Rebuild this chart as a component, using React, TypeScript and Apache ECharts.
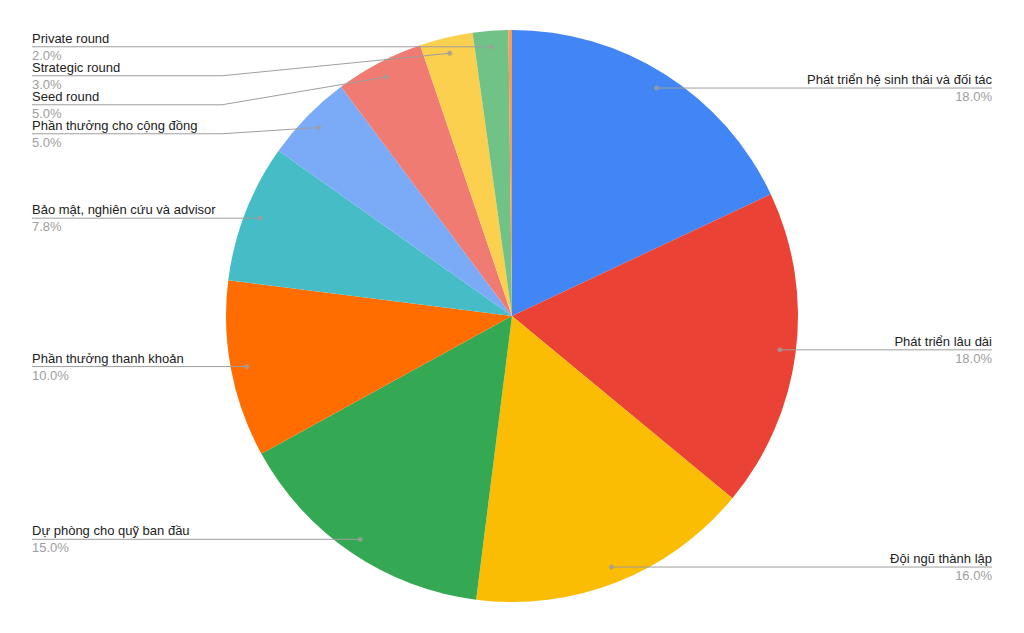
import React, { useEffect, useRef } from 'react';
import * as echarts from 'echarts';

// ---- Data ----
const categories = [
  'Phát triển hệ sinh thái và đối tác',
  'Phát triển lâu dài',
  'Đội ngũ thành lập',
  'Dự phòng cho quỹ ban đầu',
  'Phần thưởng thanh khoản',
  'Bảo mật, nghiên cứu và advisor',
  'Phần thưởng cho cộng đồng',
  'Seed round',
  'Strategic round',
  'Private round',
  '',
];
const values = [18, 18, 16, 15, 10, 7.8, 5, 5, 3, 2, 0.2];
const labelShown = [true, true, true, true, true, true, true, true, true, true, false];
const colors = [
  '#4285f4', '#ea4335', '#fbbc04', '#34a853', '#ff6d01',
  '#46bdc6', '#7baaf7', '#f07b72', '#fcd04f', '#71c287', '#ff994d',
];

// ---- Layout / style constants ----
const W = 1024;
const H = 633;
const CX = 512;
const CY = 316;
const R = 286;
const DOT_R = 270;
const EDGE_L = 32;
const EDGE_R = 992;
const BEND_GAP = 4;
const MIN_GAP = 29;
const FONT = "'Liberation Sans', Arial, Helvetica, sans-serif";
const LINE_COLOR = '#9e9e9e';

// label layout derived from data (cumulative angles)
const total = values.reduce((a, b) => a + b, 0);
const mids: number[] = [];
{
  let acc = 0;
  values.forEach((v) => {
    mids.push(acc + v / 2);
    acc += v;
  });
}
const dotPts = mids.map((m) => {
  const a = (m / total) * Math.PI * 2;
  return [CX + DOT_R * Math.sin(a), CY - DOT_R * Math.cos(a)];
});
const labelY = dotPts.map((p) => p[1]);
(['L', 'R'] as const).forEach((side) => {
  const idx = dotPts
    .map((p, i) => i)
    .filter((i) => labelShown[i] && (side === 'L' ? dotPts[i][0] < CX : dotPts[i][0] >= CX))
    .sort((a, b) => dotPts[a][1] - dotPts[b][1]);
  let prev = -Infinity;
  idx.forEach((i) => {
    const y = Math.max(dotPts[i][1], prev + MIN_GAP);
    labelY[i] = y;
    prev = y;
  });
});

function buildOption() {
  const pieBase = {
    type: 'pie',
    center: [CX, CY],
    radius: R,
    startAngle: 90,
    clockwise: true,
    avoidLabelOverlap: false,
  };
  return {
    animation: false,
    backgroundColor: '#ffffff',
    polar: { center: [CX, CY], radius: R },
    angleAxis: { type: 'value', min: 0, max: total, startAngle: 90, clockwise: true, show: false },
    radiusAxis: { type: 'value', min: 0, max: R, show: false },
    series: [
      {
        ...pieBase,
        z: 2,
        itemStyle: { borderWidth: 0 },
        label: { show: false },
        labelLine: { show: false },
        data: categories.map((name, i) => ({
          name,
          value: values[i],
          itemStyle: { color: colors[i] },
        })),
      },
      {
        ...pieBase,
        z: 3,
        silent: true,
        itemStyle: { color: 'rgba(0,0,0,0)', borderWidth: 0 },
        data: categories.map((name, i) => ({
          name,
          value: values[i],
          label: { show: labelShown[i] },
          labelLine: { show: labelShown[i] },
        })),
        label: {
          show: true,
          position: 'outer',
          width: 320,
          overflow: 'none',
          formatter: (p: any) => `{n|${p.name}}\n{p|${Number(p.value).toFixed(1)}%}`,
          rich: {
            n: { fontSize: 13, color: '#222222', lineHeight: 17, fontFamily: FONT },
            p: { fontSize: 13, color: '#9e9e9e', lineHeight: 17, fontFamily: FONT },
          },
        },
        labelLine: {
          show: true,
          length: 10,
          length2: 10,
          lineStyle: { color: LINE_COLOR, width: 1 },
        },
        labelLayout: (params: any) => {
          const i = params.dataIndex;
          const d = dotPts[i];
          const left = d[0] < CX;
          const y = labelY[i];
          const edge = left ? EDGE_L : EDGE_R;
          const shifted = Math.abs(y - d[1]) > 0.5;
          const bendX = left ? CX - R - BEND_GAP : CX + R + BEND_GAP;
          const mid = shifted ? [bendX, y] : [d[0], d[1]];
          return {
            x: edge,
            y,
            align: left ? 'left' : 'right',
            verticalAlign: 'middle',
            labelLinePoints: [[d[0], d[1]], mid, [edge, y]],
          };
        },
      },
      {
        type: 'scatter',
        coordinateSystem: 'polar',
        silent: true,
        symbol: 'circle',
        symbolSize: 5,
        itemStyle: { color: LINE_COLOR },
        z: 10,
        data: mids.filter((_, i) => labelShown[i]).map((m) => [DOT_R, m]),
      },
    ],
  };
}

export default function App() {
  const ref = useRef<HTMLDivElement>(null);
  useEffect(() => {
    const chart = echarts.init(ref.current!, null, { renderer: 'svg' });
    chart.setOption(buildOption() as any);
    return () => chart.dispose();
  }, []);
  return (
    <div
      ref={ref}
      style={{ position: 'absolute', left: 0, top: 0, width: W, height: H, background: '#fff' }}
    />
  );
}
